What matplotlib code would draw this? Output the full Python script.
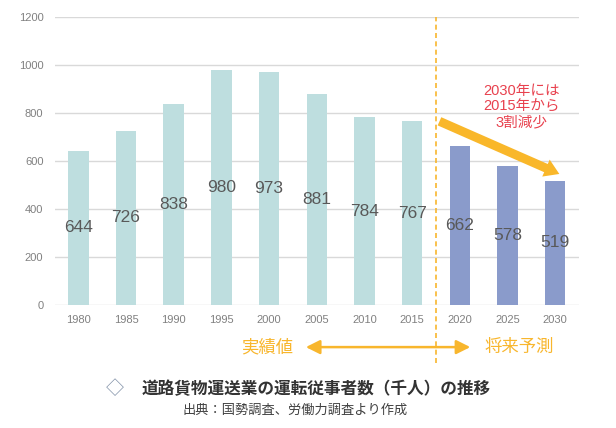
import matplotlib
matplotlib.use("Agg")
import matplotlib.pyplot as plt
from matplotlib.patches import FancyArrowPatch

plt.rcParams['font.family'] = ['Liberation Sans', 'Noto Sans CJK JP', 'DejaVu Sans']

# data (thousand drivers)
years = ['1980', '1985', '1990', '1995', '2000', '2005', '2010', '2015',
         '2020', '2025', '2030']
actual = [644, 726, 838, 980, 973, 881, 784, 767]
forecast = [662, 578, 519]
yticks = [0, 200, 400, 600, 800, 1000, 1200]

c_actual = '#BEDEDF'
c_forecast = '#8A9BCB'
c_orange = '#F8B62D'

fig = plt.figure(figsize=(6.16, 4.28), dpi=100)
ax = fig.add_axes([0.0885, 0.2874, 0.8515, 0.672])

x_act = list(range(len(actual)))
x_fc = list(range(len(actual), len(years)))
b1 = ax.bar(x_act, actual, width=0.43, color=c_actual, zorder=2)
b2 = ax.bar(x_fc, forecast, width=0.43, color=c_forecast, zorder=2)
for b in (b1, b2):
    ax.bar_label(b, label_type='center', fontsize=12.5, color='#595959')

ax.set_xlim(-0.5, len(years) - 0.5)
ax.set_ylim(0, 1200)
ax.set_yticks(yticks)
ax.set_xticks(range(len(years)))
ax.set_xticklabels(years)
ax.tick_params(axis='both', length=0, labelsize=8, colors='#808080')
ax.tick_params(axis='y', pad=8)
ax.tick_params(axis='x', pad=7)
ax.grid(axis='y', color='#D9D9D9', lw=1, zorder=0)
for s in ax.spines.values():
    s.set_visible(False)

# boundary between actual and forecast
ax.axvline(7.5, ymin=-0.2, ymax=1.0, color=c_orange, ls=(0, (3, 2)), lw=1.2,
           clip_on=False, zorder=3)

# decline arrow
arr = FancyArrowPatch((7.52, 771), (10.14, 542),
                      arrowstyle='simple,head_width=0.95,head_length=0.75,tail_width=0.46',
                      mutation_scale=14, color='#F9B72A', lw=0, zorder=4)
ax.add_patch(arr)
ax.text(9.3, 829, '2030年には\n2015年から\n3割減少', ha='center', va='center',
        fontsize=10.5, color='#E8414E', linespacing=1.15)

# actual / forecast legend arrow
fig.add_artist(FancyArrowPatch((0.492, 0.189), (0.768, 0.189),
                               transform=fig.transFigure,
                               arrowstyle='<|-|>,head_length=0.6,head_width=0.3',
                               mutation_scale=14, color=c_orange, lw=1.8))
fig.text(0.433, 0.189, '実績値', ha='center', va='center', fontsize=12.5,
         color=c_orange)
fig.text(0.8425, 0.189, '将来予測', ha='center', va='center', fontsize=12.5,
         color=c_orange)

# caption
fig.text(0.187, 0.091, '◇', ha='center', va='center', fontsize=13,
         color='#7F8FA6')
fig.text(0.2305, 0.091, '道路貨物運送業の運転従事者数（千人）の推移', ha='left',
         va='center', fontsize=12, fontweight='bold', color='#333333')
fig.text(0.297, 0.040, '出典：国勢調査、労働力調査より作成', ha='left',
         va='center', fontsize=9.5, color='#404040')

fig.savefig('out.png', dpi=100)
